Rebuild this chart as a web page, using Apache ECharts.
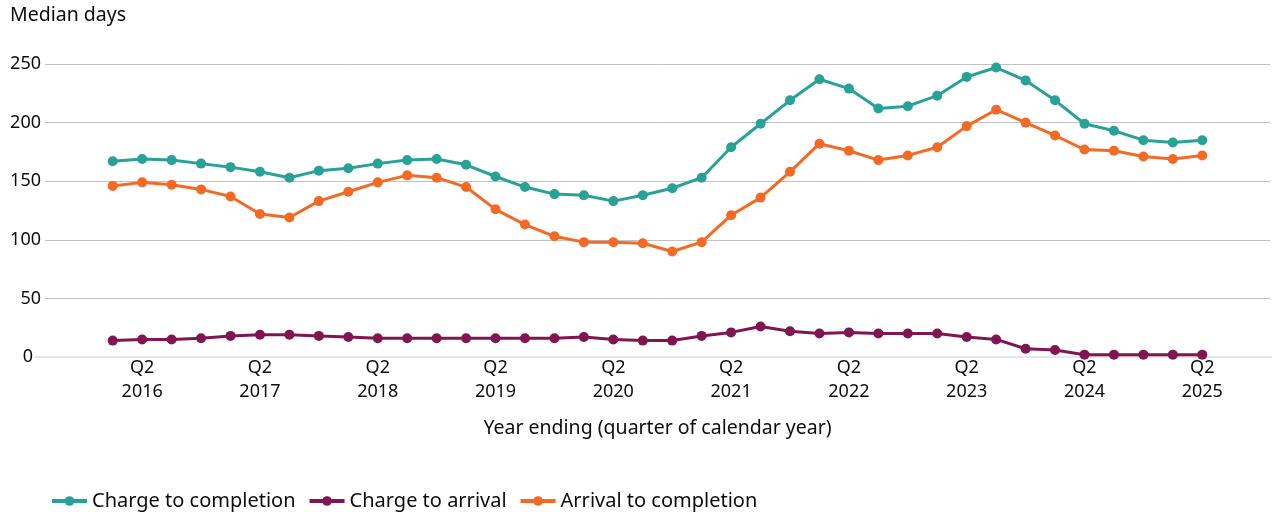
<!DOCTYPE html>
<html>
<head>
<meta charset="utf-8">
<script src="https://cdn.jsdelivr.net/npm/echarts@6/dist/echarts.min.js"></script>
<style>
html,body{margin:0;padding:0;background:#fff;}
#chart{width:1272px;height:512px;}
</style>
</head>
<body>
<div id="chart"></div>
<script>
const categories = [
  "Q1 2016","Q2 2016","Q3 2016","Q4 2016",
  "Q1 2017","Q2 2017","Q3 2017","Q4 2017",
  "Q1 2018","Q2 2018","Q3 2018","Q4 2018",
  "Q1 2019","Q2 2019","Q3 2019","Q4 2019",
  "Q1 2020","Q2 2020","Q3 2020","Q4 2020",
  "Q1 2021","Q2 2021","Q3 2021","Q4 2021",
  "Q1 2022","Q2 2022","Q3 2022","Q4 2022",
  "Q1 2023","Q2 2023","Q3 2023","Q4 2023",
  "Q1 2024","Q2 2024","Q3 2024","Q4 2024",
  "Q1 2025","Q2 2025"
];
const chargeToCompletion = [167,169,168,165,162,158,153,159,161,165,168,169,164,154,145,139,138,133,138,144,153,179,199,219,237,229,212,214,223,239,247,236,219,199,193,185,183,185];
const chargeToArrival = [14,15,15,16,18,19,19,18,17,16,16,16,16,16,16,16,17,15,14,14,18,21,26,22,20,21,20,20,20,17,15,7,6,2,2,2,2,2];
const arrivalToCompletion = [146,149,147,143,137,122,119,133,141,149,155,153,145,126,113,103,98,98,97,90,98,121,136,158,182,176,168,172,179,197,211,200,189,177,176,171,169,172];
const yTicks = [0, 50, 100, 150, 200, 250];
const seriesNames = ["Charge to completion", "Charge to arrival", "Arrival to completion"];
const colors = ["#28a197", "#801650", "#f46a25"];

const FONT = "Noto Sans";
const TEXT = "#0b0c0c";
const chart = echarts.init(document.getElementById('chart'), null, {renderer: 'canvas'});

const yMin = yTicks[0], yMax = yTicks[yTicks.length - 1], yStep = yTicks[1] - yTicks[0];

const mkSeries = (name, data, color) => ({
  name, type: 'line', data, xAxisIndex: 0, yAxisIndex: 0,
  symbol: 'circle', symbolSize: 10, showSymbol: true,
  lineStyle: {width: 3, color}, itemStyle: {color},
  emphasis: {disabled: true}, z: 5
});

chart.setOption({
  animation: false,
  textStyle: {fontFamily: FONT, color: TEXT},
  title: {text: 'Median days', left: 5, top: 0,
    textStyle: {fontFamily: FONT, fontSize: 19.5, fontWeight: 'normal', color: TEXT}},
  legend: {
    left: 45, top: 486, itemWidth: 35, itemHeight: 12, itemGap: 12,
    textStyle: {fontFamily: FONT, fontSize: 20, color: TEXT},
    data: seriesNames.map((n, i) => ({name: n, itemStyle: {color: colors[i]}, lineStyle: {width: 4, color: colors[i]}}))
  },
  grid: [
    {left: 98, right: 55, top: 64, bottom: 155},
    {left: 45, right: 2, top: 64, bottom: 155},
    {left: 35, right: 0, top: 64, bottom: 155}
  ],
  xAxis: [
    {type: 'category', gridIndex: 0, data: categories, boundaryGap: true,
     axisLine: {show: false}, axisTick: {show: false}, splitLine: {show: false},
     axisLabel: {interval: (i) => i % 4 === 1, fontFamily: FONT, fontSize: 18, color: TEXT,
       lineHeight: 24, margin: -1, formatter: (v) => v.replace(' ', '\n')},
     name: 'Year ending (quarter of calendar year)', nameLocation: 'middle', nameGap: 61,
     nameTextStyle: {fontFamily: FONT, fontSize: 19.5, color: TEXT}},
    {type: 'value', gridIndex: 1, min: 0, max: 1, show: false},
    {type: 'value', gridIndex: 2, min: 0, max: 1, axisLine: {show: true, lineStyle: {color: '#e1e6ef', width: 2}},
     axisTick: {show: false}, axisLabel: {show: false}, splitLine: {show: false}, z: 3}
  ],
  yAxis: [
    {type: 'value', gridIndex: 0, min: yMin, max: yMax, interval: yStep, show: false},
    {type: 'value', gridIndex: 1, min: yMin, max: yMax, interval: yStep,
     axisLine: {show: false}, axisTick: {show: false},
     axisLabel: {fontFamily: FONT, fontSize: 18, color: TEXT, margin: 4,
       formatter: (v) => v === yMin ? '' : String(v)},
     splitLine: {lineStyle: {color: '#bfc1c3', width: 1}}},
    {type: 'value', gridIndex: 2, min: yMin, max: yMax, interval: yStep,
     axisLine: {show: false}, axisTick: {show: false}, splitLine: {show: false},
     axisLabel: {fontFamily: FONT, fontSize: 18, color: TEXT, margin: 2,
       formatter: (v) => v === yMin ? String(v) : ''}}
  ],
  series: [
    mkSeries(seriesNames[0], chargeToCompletion, colors[0]),
    mkSeries(seriesNames[1], chargeToArrival, colors[1]),
    mkSeries(seriesNames[2], arrivalToCompletion, colors[2])
  ]
});
</script>
</body>
</html>
